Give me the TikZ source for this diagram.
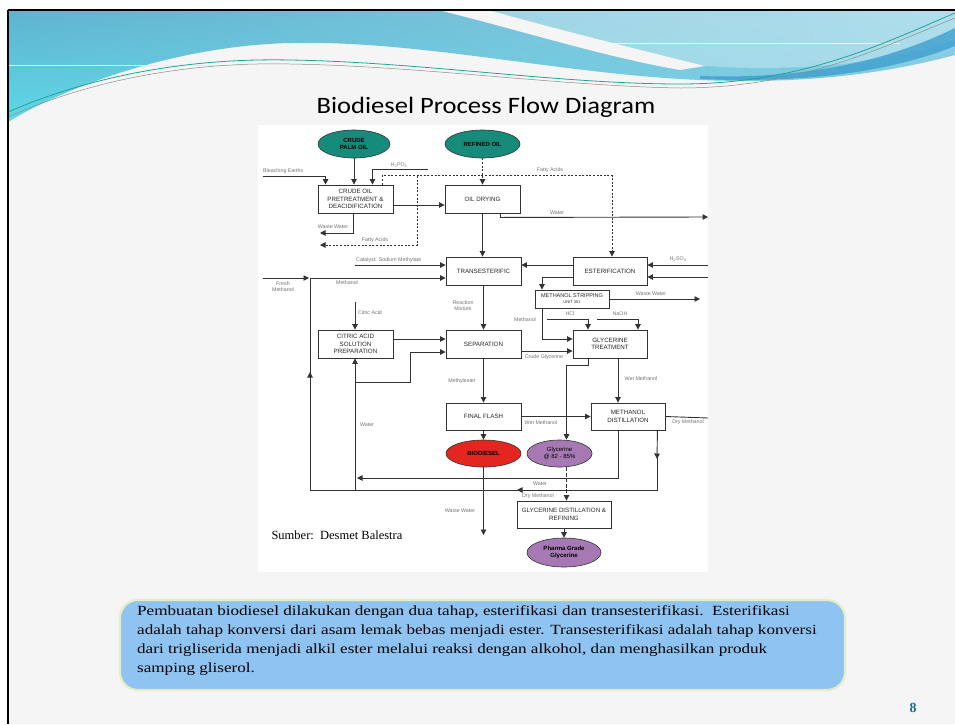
\documentclass[tikz,border=0pt]{standalone}
\usepackage{fontspec}
\setmainfont{Liberation Serif}
\setsansfont{Liberation Sans}
\newfontfamily\titlefont[FakeStretch=1.13]{Carlito}
\newfontfamily\capfont[FakeStretch=1.22]{Liberation Serif}
\usetikzlibrary{shapes.geometric,arrows.meta,shadings}
\definecolor{slidebg}{HTML}{F5F5F5}
\definecolor{hbA}{HTML}{5FB3CF}
\definecolor{hbB}{HTML}{8FD0E4}
\definecolor{hbC}{HTML}{5ED8E8}
\definecolor{hbD}{HTML}{7CC9E0}
\definecolor{hdark}{HTML}{3E9FCF}
\definecolor{teall}{HTML}{1FA597}
\definecolor{lineg}{HTML}{333333}
\definecolor{tealc}{HTML}{168B7B}
\definecolor{redc}{HTML}{E3261F}
\definecolor{purc}{HTML}{A678B4}
\definecolor{capfill}{HTML}{8FC3F1}
\definecolor{capborder}{HTML}{E4EDC6}
\definecolor{pgnum}{HTML}{1E6F8E}
\begin{document}
\begin{tikzpicture}[x=1pt,y=-1pt,
  box/.style={draw=lineg, line width=0.9pt, fill=white, minimum width=75pt, minimum height=28pt, inner sep=1pt, align=center, font=\sffamily\fontsize{6.2}{7.5}\selectfont, text=black!85},
  oval/.style={ellipse, draw=black!80, line width=0.6pt, inner sep=0pt, align=center, font=\sffamily\bfseries\fontsize{6}{7}\selectfont},
  flow/.style={draw=lineg, line width=0.9pt, -{Triangle[length=5.5pt,width=5.5pt]}},
  plain/.style={draw=lineg, line width=0.9pt},
  dflow/.style={flow, dash pattern=on 2pt off 1.6pt},
  lbl/.style={font=\sffamily\fontsize{5.3}{6}\selectfont, text=black!55, inner sep=0pt, align=center}]
\useasboundingbox (0,0) rectangle (955,724);
% slide background
\fill[white] (0,0) rectangle (955,724);
\fill[slidebg] (8,10) rectangle (955,724);
% header band
\shade[upper left=hbA, upper right=hbB, lower left=hbC, lower right=hbD]
  (8,10) -- (955,10) -- (955,55) .. controls (880,75) and (800,84) .. (700,80)
  .. controls (560,74) and (420,40) .. (290,43) .. controls (170,46) and (60,90) .. (8,122) -- cycle;
\fill[white,opacity=0.3] (488,10) -- (955,10) -- (955,40) .. controls (880,64) and (800,72) .. (705,66)
  .. controls (640,50) and (560,30) .. (488,10) -- cycle;
\fill[slidebg] (438,10) -- (488,10) .. controls (560,30) and (640,50) .. (705,66) -- (680,70)
  .. controls (600,56) and (520,30) .. (438,10) -- cycle;
\fill[hdark,opacity=0.8] (700,76) .. controls (820,80) and (900,55) .. (955,28) -- (955,46)
  .. controls (900,68) and (820,84) .. (700,79) -- cycle;
\draw[white!80!hbA, line width=0.6pt] (8,65) -- (245,65);
\draw[white!80!hbB, line width=0.6pt] (600,43) -- (900,43);
\draw[teall, line width=0.8pt] (8,112) .. controls (100,72) and (200,58) .. (290,60)
  .. controls (420,62) and (560,84) .. (680,84) .. controls (800,84) and (880,45) .. (955,13);
\draw[black!45, line width=0.5pt] (8,117) .. controls (100,76) and (200,62) .. (290,64)
  .. controls (420,66) and (560,86) .. (680,88) .. controls (800,88) and (880,48) .. (955,18);
\draw[black, line width=1.2pt] (8,10) -- (955,10);
\draw[black, line width=2pt] (8,10) -- (8,724);
% title
\node[font=\titlefont\fontsize{23.5}{26}\selectfont, anchor=base] (title) at (486,113) {Biodiesel Process Flow Diagram};
% diagram area
\fill[white] (258,125) rectangle (708,572);
% nodes
\node[oval, fill=tealc, minimum width=72pt, minimum height=28pt] (cpo) at (354,144) {CRUDE\\PALM OIL};
\node[oval, fill=tealc, minimum width=75pt, minimum height=28pt] (ro) at (482.5,144) {REFINED OIL};
\node[box] (pre) at (355.5,199) {CRUDE OIL\\PRETREATMENT \&\\DEACIDIFICATION};
\node[box] (dry) at (482.5,199) {OIL DRYING};
\node[box] (trans) at (483.5,271) {TRANSESTERIFIC};
\node[box, minimum width=74pt] (ester) at (610,271) {ESTERIFICATION};
\node[box, minimum width=74pt, minimum height=18pt, font=\sffamily\fontsize{5.5}{6}\selectfont] (strip) at (572,299) {METHANOL STRIPPING\\{\fontsize{4}{4.5}\selectfont UNIT 301}};
\node[box] (citric) at (355.5,344) {CITRIC ACID\\SOLUTION\\PREPARATION};
\node[box] (sep) at (483.5,344) {SEPARATION};
\node[box, minimum width=74pt] (gt) at (610,344) {GLYCERINE\\TREATMENT};
\node[box, minimum height=27pt] (ff) at (483.5,416.5) {FINAL FLASH};
\node[box, minimum width=74pt, minimum height=27pt] (md) at (628,416.5) {METHANOL\\DISTILLATION};
\node[box, minimum width=94pt, minimum height=27pt] (gd) at (564,514.5) {GLYCERINE DISTILLATION \&\\REFINING};
\node[oval, fill=redc, minimum width=75pt, minimum height=27pt] (bio) at (483.5,453.5) {BIODIESEL};
\node[oval, fill=purc, minimum width=65pt, minimum height=27pt, font=\sffamily\fontsize{6}{7}\selectfont] (gly) at (559.5,453.5) {Glycerine\\@ 82 - 85\%};
\node[oval, fill=purc, minimum width=74pt, minimum height=29pt] (ph) at (564,552.5) {Pharma Grade\\Glycerine};
% free ends
\coordinate (be) at (263,176);
\coordinate (hp) at (428,169);
\coordinate (faj) at (417,176);
\coordinate (fa2) at (320,245);
\coordinate (ww1) at (320,233);
\coordinate (wout) at (708,217);
\coordinate (cat) at (355,265);
\coordinate (fm) at (263,278);
\coordinate (mj) at (310,278);
\coordinate (ca) at (355,302);
\coordinate (w490) at (355,490);
\coordinate (wj) at (355,382);
\coordinate (hs) at (708,265);
\coordinate (hs2) at (708,277);
\coordinate (ww2) at (700,299);
\coordinate (hcl) at (547,319);
\coordinate (naoh) at (597,319);
\coordinate (ww3) at (483.5,535);
\coordinate (dm) at (708,418);
\coordinate (rb) at (657,490);
\coordinate (rl) at (310,490);
% connectors
\draw[flow] (cpo.south) -- (cpo.south |- pre.north);
\draw[flow] (be) -| ([xshift=8pt]pre.north west);
\draw[flow] (hp) -| ([xshift=-21pt]pre.north east);
\draw[dflow] ([xshift=-11pt]pre.north east) -- ++(0,-9) -| ([xshift=2pt]ester.north);
\draw[dflow] (faj) |- (fa2);
\draw[dflow] (ro.south) -- (ro.south |- dry.north);
\draw[flow] ([yshift=-6pt]pre.east) -- ([yshift=-6pt]pre.east -| dry.west);
\draw[flow] ([xshift=-2pt]pre.south) |- (ww1);
\draw[flow] (dry.south) -- (dry.south |- trans.north);
\draw[flow] ([xshift=-20pt]dry.south east) -- ++(0,4) -- (wout);
\draw[flow] (cat) -- (cat -| trans.west);
\draw[flow] (fm) -- ([xshift=-1pt]mj);
\draw[flow] (mj) -- (mj -| trans.west);
\draw[flow] ([xshift=-8pt]md.south east) -- (657,459);
\draw[plain] (657,455) -- (rb) -- (520,490);
\draw[flow] (524,490) -- (517,490);
\draw[plain] (520,490) -- (rl) -- (310,378);
\draw[flow] (310,382) -- (310,372);
\draw[plain] (310,375) -- (mj);
\draw[flow] (ca) -- (ca |- citric.north);
\draw[flow] (w490) -- (w490 |- citric.south);
\draw[flow] (wj) -| (410,352) -- ([yshift=-8pt]sep.west);
\draw[flow] ([yshift=5pt]citric.east) -- ([yshift=5pt]sep.west);
\draw[flow] ([xshift=-10pt]md.south) |- (357,478);
\draw[flow] (trans.south) -- (sep.north);
\draw[flow] ([yshift=6pt]ester.west) -- ([yshift=6pt]trans.east);
\draw[flow] (hs) -- (hs -| ester.east);
\draw[flow] (hs2) -- (hs2 -| ester.east);
\draw[flow] ([yshift=-6pt]ester.west) -| ([xshift=-30pt]strip.north);
\draw[flow] (strip.east) -- (strip.east -| ww2);
\draw[flow] ([xshift=-30pt]strip.south) |- ([yshift=5pt]gt.west);
\draw[flow] (hcl) -| ([xshift=-22pt]gt.north);
\draw[flow] (naoh) -| ([xshift=28pt]gt.north);
\draw[flow] ([yshift=-7pt]sep.east) -- ([yshift=-7pt]gt.west);
\draw[flow] (sep.south) -- (ff.north);
\draw[flow] ([xshift=-22pt]gt.south) -- ++(0,7) -| ([xshift=7pt]gly.north);
\draw[dflow, dash pattern=on 4pt off 1.5pt] ([xshift=7pt]gly.south) -- ([xshift=7pt]gly.south |- gd.north);
\draw[flow] ([xshift=8pt]gt.south) -- ([xshift=8pt]gt.south |- md.north);
\draw[flow] (ff.east) -- (ff.east -| md.west);
\draw[flow] (ff.south) -- (bio.north);
\draw[flow] (bio.south) -- (ww3);
\draw[plain] (md.east) -- (dm);
\draw[flow] (gd.south) -- (ph.north);
% labels
\node[lbl, anchor=south west] (l1) at (263,174) {Bleaching Earths};
\node[lbl] (l2) at (399,165) {H\textsubscript{2}PO\textsubscript{4}};
\node[lbl] (l3) at (550,170) {Fatty Acids};
\node[lbl] (l4) at (375,240) {Fatty Acids};
\node[lbl] (l5) at (333,227) {Waste Water};
\node[lbl] (l6) at (557,213) {Water};
\node[lbl, anchor=south west] (l7) at (356,263) {Catalyst: Sodium Methylate};
\node[lbl] (l8) at (283,287) {Fresh\\Methanol};
\node[lbl] (l9) at (347,283) {Methanol};
\node[lbl] (l10) at (370,313) {Citric Acid};
\node[lbl] (l11) at (463,306) {Reaction\\Mixture};
\node[lbl] (l12) at (678,259) {H\textsubscript{2}SO\textsubscript{4}};
\node[lbl] (l13) at (651,294) {Waste Water};
\node[lbl] (l14) at (525,320) {Methanol};
\node[lbl] (l15) at (570,314) {HCl};
\node[lbl] (l16) at (620,314) {NaOH};
\node[lbl] (l17) at (544,357) {Crude Glycerine};
\node[lbl] (l18) at (462,381) {Methylester};
\node[lbl] (l19) at (641,379) {Wet Methanol};
\node[lbl] (l20) at (541,423) {Wet Methanol};
\node[lbl] (l21) at (688,422) {Dry Methanol};
\node[lbl] (l22) at (367,425) {Water};
\node[lbl] (l23) at (540,484) {Water};
\node[lbl] (l24) at (538,496) {Dry Methanol};
\node[lbl] (l25) at (460,511) {Waste Water};
% source
\node[anchor=base west, font=\fontsize{12.5}{14}\selectfont] (src) at (268,539) {Sumber:\ \ Desmet Balestra};
% caption
\node[draw=capborder, line width=2.2pt, fill=capfill, rounded corners=18pt, minimum width=725pt, minimum height=90pt] (capbox) at (482.5,645) {};
\node[anchor=north west, align=left, inner sep=0pt, font=\capfont\fontsize{14}{19}\selectfont] (captext) at (137,605) {Pembuatan biodiesel dilakukan dengan dua tahap, esterifikasi dan transesterifikasi.\ \ Esterifikasi\\adalah tahap konversi dari asam lemak bebas menjadi ester. Transesterifikasi adalah tahap konversi\\dari trigliserida menjadi alkil ester melalui reaksi dengan alkohol, dan menghasilkan produk\\samping gliserol.};
\node[font=\bfseries\fontsize{14}{16}\selectfont, text=pgnum] (pg) at (913,708) {8};
\end{tikzpicture}
\end{document}
